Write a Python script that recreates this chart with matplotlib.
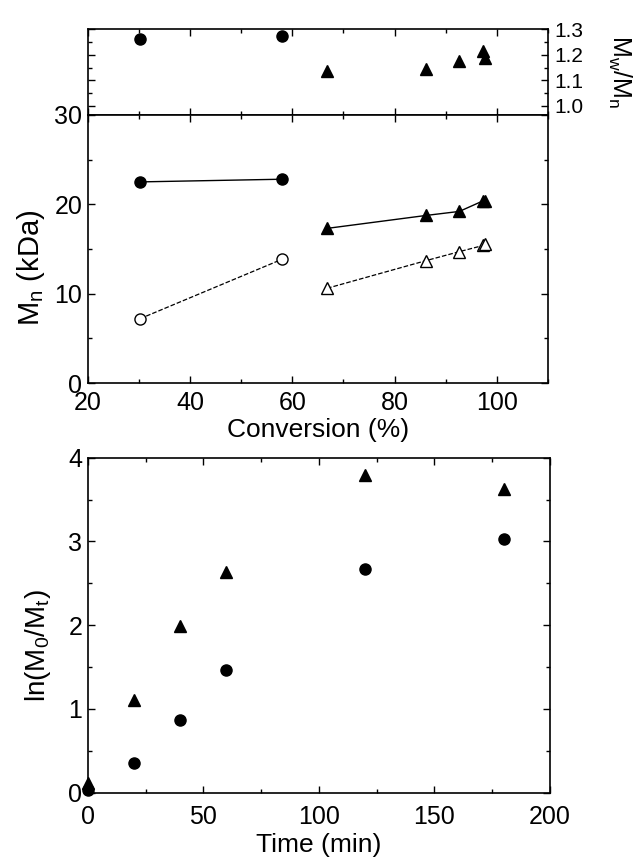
import matplotlib
matplotlib.use('Agg')
import matplotlib.pyplot as plt
from matplotlib.ticker import MultipleLocator

plt.rcParams['font.family'] = ['Liberation Sans', 'DejaVu Sans']
plt.rcParams['mathtext.default'] = 'regular'

# --- top panel: dispersity vs conversion
pdi_circ_x = [30.2, 58.0]
pdi_circ_y = [1.263, 1.274]
pdi_tri_x = [66.8, 86.2, 92.7, 97.4, 97.8]
pdi_tri_y = [1.135, 1.146, 1.175, 1.213, 1.188]

# --- middle panel: Mn vs conversion
mn_circ_x = [30.2, 58.0]
mn_circ_filled = [22.5, 22.8]
mn_circ_open = [7.2, 13.85]
mn_tri_x = [66.8, 86.2, 92.7, 97.4, 97.8]
mn_tri_filled = [17.3, 18.75, 19.2, 20.4, 20.4]
mn_tri_open = [10.6, 13.7, 14.7, 15.4, 15.5]

# --- bottom panel: kinetics
time_min = [0, 20, 40, 60, 120, 180]
ln_tri = [0.12, 1.11, 1.99, 2.63, 3.79, 3.62]
ln_circ = [0.03, 0.36, 0.87, 1.46, 2.67, 3.03]

TICK_FS = 18
LABEL_FS = 19

fig = plt.figure(figsize=(6.37, 8.57), dpi=100)
ax_top = fig.add_axes([0.138, 0.866, 0.722, 0.100])
ax_mid = fig.add_axes([0.138, 0.553, 0.722, 0.313])
ax_bot = fig.add_axes([0.138, 0.075, 0.725, 0.391])


def style(ax):
    ax.tick_params(which='both', direction='in', top=True, right=True,
                   labelsize=TICK_FS, width=1)
    ax.tick_params(axis='x', pad=6)
    ax.tick_params(axis='y', pad=4)
    ax.tick_params(which='major', length=5)
    ax.tick_params(which='minor', length=3)
    for s in ax.spines.values():
        s.set_linewidth(1.2)


ms = 8
# top
ax_top.plot(pdi_circ_x, pdi_circ_y, 'o', color='k', ms=ms)
ax_top.plot(pdi_tri_x, pdi_tri_y, '^', color='k', ms=ms + 1)
ax_top.set_xlim(20, 110)
ax_top.set_ylim(0.965, 1.3)
ax_top.xaxis.set_major_locator(MultipleLocator(20))
ax_top.xaxis.set_minor_locator(MultipleLocator(10))
ax_top.yaxis.set_major_locator(MultipleLocator(0.1))
ax_top.yaxis.set_minor_locator(MultipleLocator(0.05))
style(ax_top)
ax_top.tick_params(labelbottom=False, labelleft=False, labelright=True,
                   labelsize=15, pad=5)
ax_top.yaxis.set_label_position('right')
ax_top.set_ylabel('M$_w$/M$_n$', rotation=270, fontsize=18)
ax_top.yaxis.set_label_coords(1.185, 0.5)

# middle
ax_mid.plot(mn_circ_x, mn_circ_filled, '-o', color='k', ms=ms, lw=1)
ax_mid.plot(mn_circ_x, mn_circ_open, '--o', color='k', mfc='white', ms=ms, lw=0.9)
ax_mid.plot(mn_tri_x, mn_tri_filled, '-^', color='k', ms=ms + 1, lw=1)
ax_mid.plot(mn_tri_x, mn_tri_open, '--^', color='k', mfc='white', ms=ms + 1, lw=0.9)
ax_mid.set_xlim(20, 110)
ax_mid.set_ylim(0, 30)
ax_mid.xaxis.set_major_locator(MultipleLocator(20))
ax_mid.xaxis.set_minor_locator(MultipleLocator(10))
ax_mid.yaxis.set_major_locator(MultipleLocator(10))
ax_mid.yaxis.set_minor_locator(MultipleLocator(5))
style(ax_mid)
ax_mid.set_xlabel('Conversion (%)', fontsize=LABEL_FS, labelpad=2)
ax_mid.set_ylabel('M$_n$ (kDa)', fontsize=21)
ax_mid.yaxis.set_label_coords(-0.09, 0.43)

# bottom
ax_bot.plot(time_min, ln_tri, '^', color='k', ms=ms + 1, clip_on=False)
ax_bot.plot(time_min, ln_circ, 'o', color='k', ms=ms, clip_on=False)
ax_bot.set_xlim(0, 200)
ax_bot.set_ylim(0, 4)
ax_bot.xaxis.set_major_locator(MultipleLocator(50))
ax_bot.xaxis.set_minor_locator(MultipleLocator(25))
ax_bot.yaxis.set_major_locator(MultipleLocator(1))
ax_bot.yaxis.set_minor_locator(MultipleLocator(0.5))
style(ax_bot)
ax_bot.tick_params(axis='x', pad=9)
ax_bot.set_xlabel('Time (min)', fontsize=LABEL_FS, labelpad=3)
ax_bot.set_ylabel('ln(M$_0$/M$_t$)', fontsize=20)
ax_bot.yaxis.set_label_coords(-0.075, 0.44)

fig.savefig('out.png', dpi=100)
